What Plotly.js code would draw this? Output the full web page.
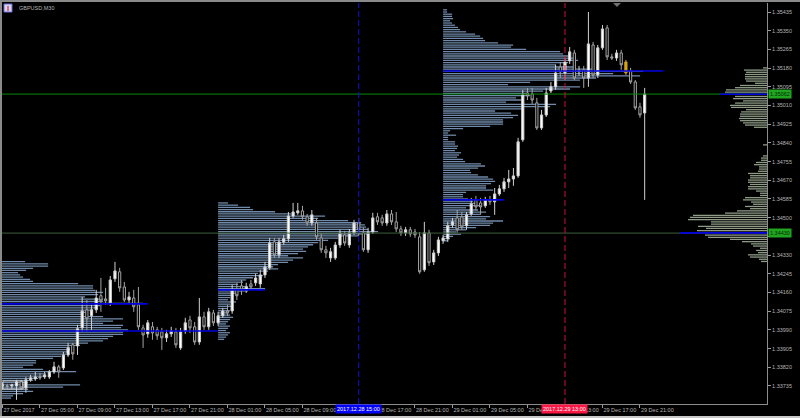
<!DOCTYPE html>
<html><head><meta charset="utf-8">
<script src="https://cdn.plot.ly/plotly-3.0.1.min.js"></script>
<style>html,body{margin:0;padding:0;background:#000;overflow:hidden}#chart{width:800px;height:418px}</style>
</head><body><div id="chart"></div>
<script>
// ---------- data ----------
const symbolTitle = "GBPUSD,M30";
// M30 bars, bar 0 = 27 Dec 2017 01:00
const openP = [
1.33735,1.33735,1.33735,1.33735,1.33754,1.33726,1.33763,1.33767,1.33776,1.33776,
1.33776,1.33799,1.33822,1.33817,1.33876,1.33922,1.33917,1.33999,1.34081,1.34054,
1.34081,1.34145,1.34131,1.34113,1.34222,1.34254,1.34185,1.34126,1.34135,1.34104,
1.33999,1.33972,1.34004,1.33990,1.33981,1.33954,1.33972,1.33981,1.33908,1.33985,
1.34035,1.34004,1.33935,1.34049,1.34004,1.34067,
1.34022,1.34054,1.34076,1.34076,
1.34172,1.34190,1.34172,1.34199,1.34204,1.34199,1.34240,1.34272,1.34390,1.34331,
1.34390,1.34404,1.34508,1.34522,1.34531,1.34504,1.34476,1.34476,1.34408,1.34354,
1.34317,1.34317,1.34376,1.34422,1.34376,1.34431,1.34476,1.34431,1.34354,1.34435,
1.34504,1.34499,1.34476,1.34517,1.34481,1.34449,1.34431,1.34445,1.34435,1.34413,
1.34263,1.34431,1.34299,1.34340,
1.34395,1.34404,1.34467,1.34499,1.34504,1.34463,
1.34517,1.34581,1.34567,1.34554,1.34581,1.34572,1.34608,1.34631,1.34663,1.34676,
1.34690,1.34854,1.35067,1.35063,1.35022,1.34908,1.34967,1.35076,1.35095,1.35185,
1.35158,1.35213,1.35249,1.35163,1.35172,1.35135,1.35285,1.35149,1.35272,1.35363,
1.35231,1.35226,1.35249,1.35208,1.35167,1.35117,1.35004,1.34976];
const highP = [
1.33749,1.33745,1.33745,1.33763,1.33763,1.33776,1.33785,1.33799,1.33795,1.33799,
1.33808,1.33845,1.33831,1.33890,1.33931,1.33931,1.34013,1.34140,1.34126,1.34104,
1.34172,1.34226,1.34181,1.34235,1.34299,1.34272,1.34208,1.34163,1.34172,1.34185,
1.34013,1.34035,1.34026,1.34004,1.33999,1.33990,1.34004,1.33999,1.33999,1.34045,
1.34054,1.34026,1.34135,1.34072,1.34090,1.34081,
1.34072,1.34090,1.34104,1.34195,
1.34204,1.34217,1.34204,1.34217,1.34245,1.34263,1.34299,1.34408,1.34408,1.34408,
1.34422,1.34526,1.34567,1.34567,1.34554,1.34517,1.34535,1.34499,1.34431,1.34372,
1.34363,1.34390,1.34445,1.34440,1.34449,1.34490,1.34499,1.34454,1.34454,1.34522,
1.34522,1.34513,1.34535,1.34535,1.34526,1.34463,1.34458,1.34458,1.34449,1.34435,
1.34481,1.34445,1.34354,1.34413,
1.34422,1.34481,1.34499,1.34535,1.34526,1.34526,
1.34590,1.34599,1.34590,1.34595,1.34599,1.34635,1.34649,1.34681,1.34717,1.34726,
1.34863,1.35081,1.35090,1.35090,1.35045,1.34990,1.35090,1.35117,1.35195,1.35208,
1.35226,1.35276,1.35263,1.35190,1.35190,1.35435,1.35299,1.35285,1.35376,1.35376,
1.35245,1.35263,1.35263,1.35217,1.35181,1.35126,1.35022,1.35090];
const lowP = [
1.33717,1.33722,1.33722,1.33672,1.33717,1.33704,1.33754,1.33758,1.33763,1.33767,
1.33767,1.33790,1.33772,1.33808,1.33867,1.33854,1.33876,1.33981,1.33981,1.33990,
1.34067,1.34072,1.34104,1.34099,1.34208,1.34163,1.34117,1.34113,1.34072,1.33990,
1.33908,1.33954,1.33945,1.33945,1.33899,1.33935,1.33958,1.33908,1.33899,1.33972,
1.33976,1.33922,1.33922,1.33990,1.33990,1.34008,
1.34008,1.34045,1.34054,1.34063,
1.34126,1.34149,1.34158,1.34172,1.34190,1.34181,1.34226,1.34263,1.34317,1.34317,
1.34376,1.34390,1.34499,1.34513,1.34490,1.34463,1.34463,1.34399,1.34340,1.34317,
1.34299,1.34308,1.34363,1.34372,1.34363,1.34422,1.34417,1.34345,1.34340,1.34426,
1.34467,1.34463,1.34463,1.34467,1.34435,1.34417,1.34417,1.34413,1.34408,1.34245,
1.34254,1.34281,1.34285,1.34326,
1.34381,1.34390,1.34454,1.34431,1.34445,1.34445,
1.34508,1.34535,1.34513,1.34545,1.34558,1.34513,1.34599,1.34617,1.34635,1.34645,
1.34681,1.34845,1.35035,1.35017,1.34899,1.34899,1.34958,1.35067,1.35081,1.35135,
1.35126,1.35199,1.35126,1.35145,1.35090,1.35095,1.35135,1.35135,1.35263,1.35217,
1.35217,1.35213,1.35172,1.35149,1.35108,1.34990,1.34954,1.34581];
const closeP = [
1.33740,1.33733,1.33740,1.33754,1.33726,1.33763,1.33772,1.33776,1.33772,1.33785,
1.33799,1.33822,1.33799,1.33876,1.33908,1.33881,1.33995,1.34076,1.34040,1.34081,
1.34135,1.34122,1.34122,1.34217,1.34258,1.34181,1.34126,1.34140,1.34095,1.34004,
1.33967,1.34022,1.33976,1.33963,1.33954,1.33972,1.33985,1.33922,1.33981,1.34022,
1.33999,1.33935,1.34049,1.34004,1.34072,1.34022,
1.34054,1.34076,1.34067,1.34172,
1.34145,1.34172,1.34185,1.34185,1.34226,1.34240,1.34276,1.34385,1.34331,1.34390,
1.34404,1.34508,1.34526,1.34531,1.34504,1.34476,1.34513,1.34413,1.34354,1.34340,
1.34345,1.34376,1.34431,1.34385,1.34431,1.34476,1.34445,1.34354,1.34435,1.34499,
1.34481,1.34476,1.34517,1.34481,1.34449,1.34431,1.34445,1.34426,1.34422,1.34254,
1.34431,1.34295,1.34340,1.34399,
1.34408,1.34463,1.34481,1.34445,1.34458,1.34513,
1.34563,1.34549,1.34549,1.34581,1.34572,1.34608,1.34631,1.34663,1.34676,1.34690,
1.34845,1.35058,1.35054,1.35035,1.34908,1.34967,1.35067,1.35095,1.35158,1.35163,
1.35208,1.35254,1.35135,1.35167,1.35135,1.35290,1.35149,1.35272,1.35358,1.35231,
1.35226,1.35249,1.35195,1.35158,1.35117,1.34999,1.34967,1.35062];
const highlightBar = 133;   // the yellow candle

const timeTickLabels = ["27 Dec 2017","27 Dec 05:00","27 Dec 09:00","27 Dec 13:00","27 Dec 17:00","27 Dec 21:00",
 "28 Dec 01:00","28 Dec 05:00","28 Dec 09:00","28 Dec 13:00","28 Dec 17:00","28 Dec 21:00",
 "29 Dec 01:00","29 Dec 05:00","29 Dec 09:00","29 Dec 13:00","29 Dec 17:00","29 Dec 21:00"];
const priceTicks = [1.35435,1.35350,1.35265,1.35180,1.35095,1.35010,1.34925,1.34840,1.34755,1.34670,
 1.34585,1.34500,1.34415,1.34330,1.34245,1.34160,1.34075,1.33990,1.33905,1.33820,1.33735];

// volume profiles (rows of 0.0001, top row price given)
const BIN_STEP = 0.0001;
const sessionStart = ["2017.12.27 00:00","2017.12.28 00:00","2017.12.29 00:00"];
const sessionTop = [1.34300, 1.34567, 1.35445];
const vol27 = [32,55,55,40,33,25,27,30,37,40,85,100,100,102,110,105,92,110,110,150,107,105,100,95,90,110,130,120,110,130,128,135,130,130,120,115,110,95,87,77,77,75,73,68,60,43,43,40,30,50,83,53,50,45,40,35,87,70,35,40,30,20,18];
const vol28 = [10,20,32,35,57,73,107,100,130,143,147,148,150,160,150,140,120,110,100,95,90,85,88,80,70,85,75,70,60,55,60,50,40,45,35,28,25,20,30,47,30,20,15,12,10,18,12,15,10,12,10,12,15,12,10,8,12,10,8,12,10,8,6];
const vol29 = [4,4,9,9,10,7,9,12,15,17,23,32,37,40,42,55,70,68,83,117,120,127,133,135,125,113,133,150,200,170,
 197,153,137,87,65,137,127,100,83,87,73,80,63,113,107,80,52,68,75,70,60,60,60,47,20,7,5,13,5,5,
 12,12,15,14,12,18,16,14,20,22,38,42,35,27,28,35,45,50,52,48,43,43,50,23,20,20,25,30,32,37,
 23,35,43,37,47,43,60,50,47,33,23,13,18,10,7,5];
const rangeTop = 1.35181;
const volRange = [4,23,21,22,22,22,21,12,27,32,41,42,47,32,34,24,32,37,36,21,26,27,27,28,27,24,22,13,0,0,
 0,0,0,0,0,4,0,0,0,0,4,6,6,11,13,8,8,9,19,17,17,19,19,17,19,19,11,7,7,22,
 24,16,14,22,17,30,42,74,77,79,56,56,69,61,70,87,62,59,37,25,16,14,7,11,9,19,17,8,6];
const rangePocRows = [12, 75];

// POC / level lines
const pocPrice = [1.33985, 1.34108, 1.34172, 1.35167, 1.34581];
const pocFrom  = ["2017.12.27 00:00","2017.12.27 00:00","2017.12.28 00:00","2017.12.29 00:00","2017.12.29 00:00"];
const pocTo    = ["2017.12.28 00:00","2017.12.27 16:30","2017.12.28 05:00","2017.12.29 23:30","2017.12.29 06:30"];
const levelPrice = 1.34430;
const markerTimes = ["2017.12.28 15:00","2017.12.29 13:00"];
const markerColors = ["#0000ff","#ff1744"];

// ---------- helpers ----------
function timeToBar(s){ // bar 0 = 27 Dec 01:00, 30 minute bars
  const d = +s.slice(8,10), h = +s.slice(11,13), m = +s.slice(14,16);
  return (d-27)*48 + (h-1)*2 + m/30;
}
const barIndex = openP.map((_,i)=>i);
const X_RANGE = [-0.1, 163.1];
const Y_RANGE = [1.33653, 1.35476];
const VOL_SCALE = 1/4.6875;
const BAR_THICK = 0.000058;
const px = x => (x-2)/765, py = y => 1-(y-3)/401;

const traces = [];
function profile(top, vols, start, color){
  traces.push({type:'bar', orientation:'h', y: vols.map((_,i)=>top - i*BIN_STEP), x: vols.map(v=>v*VOL_SCALE),
    base: start, width: BAR_THICK, marker:{color:color, line:{width:0}}, hoverinfo:'skip'});
}
const profColor = '#6f8aaa';
profile(sessionTop[0], vol27, timeToBar(sessionStart[0]), profColor);
profile(sessionTop[1], vol28, timeToBar(sessionStart[1]), profColor);
profile(sessionTop[2], vol29, timeToBar(sessionStart[2]), profColor);
traces.push({type:'bar', orientation:'h', y: volRange.map((_,i)=>rangeTop - i*BIN_STEP),
  x: volRange.map(v=>v*VOL_SCALE), base: volRange.map(v=>X_RANGE[1]-v*VOL_SCALE), width: BAR_THICK,
  marker:{color: volRange.map((_,i)=>rangePocRows.includes(i)?'#0000e0':'#8f9d88'), line:{width:0}}, hoverinfo:'skip'});

// level lines
const bid = closeP[closeP.length-1];
traces.push({type:'scatter', mode:'lines', x:X_RANGE, y:[bid,bid], line:{color:'#078a07', width:1}, hoverinfo:'skip'});
traces.push({type:'scatter', mode:'lines', x:X_RANGE, y:[levelPrice,levelPrice], line:{color:'#3c5f3c', width:1}, hoverinfo:'skip'});
rangePocRows.forEach(i=>{
  const p = rangeTop - i*BIN_STEP;
  traces.push({type:'scatter', mode:'lines', x:[X_RANGE[1]-volRange[i]*VOL_SCALE, X_RANGE[1]], y:[p,p], line:{color:'#0000e0', width:1.6}, hoverinfo:'skip'});
});
pocPrice.forEach((p,i)=>{
  traces.push({type:'scatter', mode:'lines', x:[timeToBar(pocFrom[i]), timeToBar(pocTo[i])], y:[p,p], line:{color:'#0000e0', width:1.6}, hoverinfo:'skip'});
});

// candles
const mainIdx = barIndex.filter(i=>i!==highlightBar);
traces.push({type:'candlestick', x: mainIdx, open: mainIdx.map(i=>openP[i]), high: mainIdx.map(i=>highP[i]),
  low: mainIdx.map(i=>lowP[i]), close: mainIdx.map(i=>closeP[i]), whiskerwidth:0,
  increasing:{line:{color:'#d0d0d0', width:1}, fillcolor:'#ffffff'},
  decreasing:{line:{color:'#a4a4a4', width:1}, fillcolor:'#000000'}, hoverinfo:'skip'});
traces.push({type:'candlestick', x:[highlightBar], open:[openP[highlightBar]], high:[highP[highlightBar]],
  low:[lowP[highlightBar]], close:[closeP[highlightBar]], whiskerwidth:0,
  increasing:{line:{color:'#d4a21a', width:1}, fillcolor:'#d4a21a'},
  decreasing:{line:{color:'#d4a21a', width:1}, fillcolor:'#d4a21a'}, hoverinfo:'skip'});

const tinyFont = {family:'Liberation Sans, Arial, sans-serif', size:5.5, color:'#b4b4b4'};
const shapes = [
  {type:'rect', xref:'paper', yref:'paper', x0:px(0), x1:px(800), y0:py(0), y1:py(2), fillcolor:'#8a8a8a', line:{width:0}},
  {type:'rect', xref:'paper', yref:'paper', x0:px(0), x1:px(2), y0:py(418), y1:py(0), fillcolor:'#8a8a8a', line:{width:0}},
  {type:'rect', xref:'paper', yref:'paper', x0:px(0), x1:px(800), y0:py(418), y1:py(416), fillcolor:'#c8c8c8', line:{width:0}},
  {type:'rect', xref:'paper', yref:'paper', x0:px(4), x1:px(12), y0:py(12), y1:py(4), fillcolor:'#d4d4f6', line:{color:'#6a6ad0', width:1}},
  {type:'line', xref:'paper', yref:'paper', x0:px(8), x1:px(8), y0:py(11), y1:py(6), line:{color:'#e05050', width:1.5}},
  {type:'rect', xref:'paper', yref:'paper', x0:px(3), x1:px(23), y0:py(389), y1:py(381), line:{color:'#d0d0d0', width:1}},
  {type:'path', xref:'paper', yref:'paper', path:`M ${px(613)} ${py(3)} L ${px(621)} ${py(3)} L ${px(617)} ${py(7)} Z`, fillcolor:'#707070', line:{width:0}}
];
markerTimes.forEach((t,i)=>{
  shapes.push({type:'line', xref:'x', yref:'paper', x0:timeToBar(t), x1:timeToBar(t), y0:0, y1:1, layer:'above',
    line:{color: i===0?'#1010d0':'#d0103a', width:1, dash:'6px,3px'}});
});

const annotations = [
  {xref:'paper', yref:'paper', x:px(17), y:py(8), xanchor:'left', yanchor:'middle', text:symbolTitle, showarrow:false, font:tinyFont},
  {xref:'paper', yref:'y', x:px(768), y:bid, xanchor:'left', yanchor:'middle', text:bid.toFixed(5), showarrow:false,
    bgcolor:'#1fa51f', borderpad:1, font:{family:tinyFont.family, size:5.5, color:'#062806'}},
  {xref:'paper', yref:'y', x:px(768), y:levelPrice, xanchor:'left', yanchor:'middle', text:levelPrice.toFixed(5), showarrow:false,
    bgcolor:'#1fa51f', borderpad:1, font:{family:tinyFont.family, size:5.5, color:'#062806'}}
];
markerTimes.forEach((t,i)=>{
  annotations.push({xref:'x', yref:'paper', x:timeToBar(t), y:py(409), xanchor:'center', yanchor:'middle', text:t, showarrow:false,
    bgcolor:markerColors[i], borderpad:1, font:{family:tinyFont.family, size:5.5, color:'#ffffff'}});
});

// labels fully hidden under highlight boxes in the original are left blank
const priceTickText = priceTicks.map(v => Math.abs(v-levelPrice) < 0.0002 ? '' : v.toFixed(5));
const timeTickText = timeTickLabels.map((t,j) => (j===9) ? '' : t);

const layout = {
  width:800, height:418, margin:{l:2, r:33, t:3, b:14},
  paper_bgcolor:'#000000', plot_bgcolor:'#000000', showlegend:false, barmode:'overlay', boxgap:0.33,
  xaxis:{range:X_RANGE, rangeslider:{visible:false}, tickvals: timeTickLabels.map((_,j)=>j*8), ticktext: timeTickText,
    ticks:'outside', ticklen:3, tickcolor:'#9a9a9a', tickfont:tinyFont, ticklabelposition:'outside right', tickangle:0,
    showgrid:false, zeroline:false, showline:true, linecolor:'#8c8c8c', linewidth:1, automargin:false, fixedrange:true},
  yaxis:{range:Y_RANGE, side:'right', tickvals: priceTicks, ticktext: priceTickText,
    ticks:'outside', ticklen:3, tickcolor:'#9a9a9a', tickfont:tinyFont, showgrid:false, zeroline:false,
    showline:true, linecolor:'#8c8c8c', linewidth:1, automargin:false, fixedrange:true},
  shapes, annotations
};
Plotly.newPlot('chart', traces, layout, {staticPlot:true, displayModeBar:false});
</script></body></html>
